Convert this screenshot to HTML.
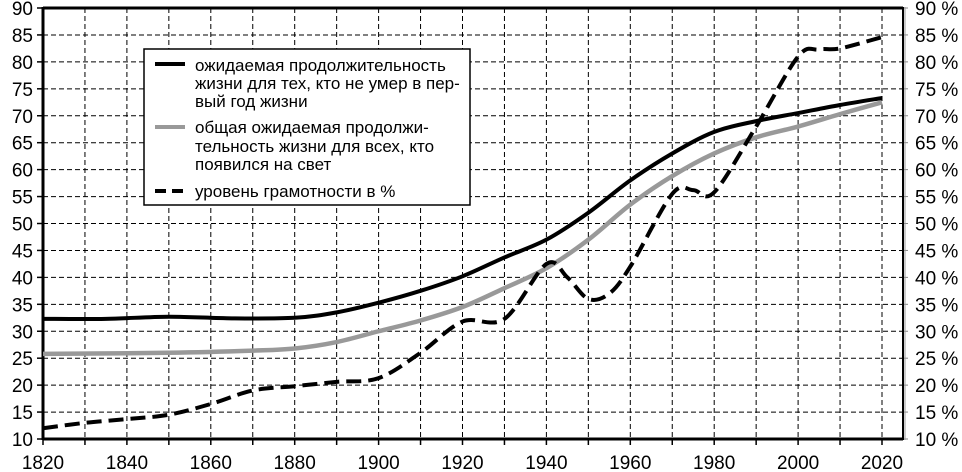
<!DOCTYPE html>
<html><head><meta charset="utf-8"><style>
body{margin:0;background:#fff}
svg{display:block;font-family:"Liberation Sans",sans-serif}
</style></head><body>
<svg id="s" width="962" height="472" xmlns="http://www.w3.org/2000/svg"></svg>
<script>
const s=document.getElementById('s');
const X=y=>43+(y-1820)*4.195, Y=v=>439-(v-10)*5.3875;
let h='';
for(let yr=1830;yr<=2020;yr+=10){h+=`<line x1="${X(yr)}" y1="8" x2="${X(yr)}" y2="439" stroke="#000" stroke-width="1" stroke-dasharray="5,3"/>`;}
for(let v=15;v<=85;v+=5){h+=`<line x1="43" y1="${Y(v)}" x2="903" y2="${Y(v)}" stroke="#000" stroke-width="1" stroke-dasharray="5,3"/>`;}
for(let v=10;v<=90;v+=5){const y=Y(v);
h+=`<line x1="37" y1="${y}" x2="43" y2="${y}" stroke="#000" stroke-width="1.5"/>`;
h+=`<line x1="903" y1="${y}" x2="908" y2="${y}" stroke="#888" stroke-width="1"/>`;
h+=`<text x="33" y="${y+7}" font-size="19" text-anchor="end">${v}</text>`;
h+=`<text x="915" y="${y+7}" font-size="19">${v} %</text>`;}
for(let yr=1820;yr<=2020;yr+=10){h+=`<line x1="${X(yr)}" y1="439" x2="${X(yr)}" y2="445" stroke="#000" stroke-width="1.5"/>`;}
for(let yr=1820;yr<=2020;yr+=20){h+=`<text x="${X(yr)}" y="469" font-size="19" text-anchor="middle">${yr}</text>`;}
h+=`<line x1="43" y1="8" x2="903" y2="8" stroke="#000" stroke-width="3"/>`;
h+=`<line x1="43" y1="439" x2="903" y2="439" stroke="#000" stroke-width="3"/>`;
h+=`<line x1="43" y1="7" x2="43" y2="440" stroke="#000" stroke-width="3"/>`;
h+=`<line x1="903" y1="7" x2="903" y2="440" stroke="#000" stroke-width="2"/>`;
h+=`<line x1="905" y1="7" x2="905" y2="440" stroke="#999" stroke-width="1"/>`;
function path(d){
 const p=d.map(a=>[X(a[0]),Y(a[1])]);let o=`M${p[0][0]},${p[0][1]}`;
 for(let i=0;i<p.length-1;i++){const p0=p[i-1]||p[i],p1=p[i],p2=p[i+1],p3=p[i+2]||p2;
 o+=` C${p1[0]+(p2[0]-p0[0])/6},${p1[1]+(p2[1]-p0[1])/6} ${p2[0]-(p3[0]-p1[0])/6},${p2[1]-(p3[1]-p1[1])/6} ${p2[0]},${p2[1]}`;}return o;}
const blk=[[1820,32.3],[1835,32.3],[1850,32.7],[1865,32.4],[1880,32.5],[1890,33.5],[1900,35.3],[1910,37.5],[1920,40.2],[1930,43.7],[1940,47],[1950,52],[1960,58],[1970,63],[1980,67],[1990,69],[2000,70.5],[2010,72],[2020,73.3]];
const gry=[[1820,25.8],[1850,26],[1870,26.4],[1880,26.8],[1890,28],[1900,30],[1910,32],[1920,34.5],[1930,38],[1940,41.7],[1950,47],[1960,53.5],[1970,58.8],[1980,63],[1990,66],[2000,68],[2010,70.3],[2020,72.5]];
const dsh=[[1820,12],[1830,13],[1840,13.7],[1850,14.5],[1860,16.5],[1870,19],[1880,19.8],[1890,20.6],[1900,21.3],[1910,26],[1920,31.8],[1930,32.3],[1940,42.5],[1945,40],[1950,36],[1955,37],[1960,42],[1970,55.5],[1975,56.2],[1980,55.8],[1990,68],[2000,81],[2005,82.3],[2010,82.5],[2020,84.6]];
h+=`<path d="${path(gry)}" fill="none" stroke="#999" stroke-width="4.5"/>`;
h+=`<path d="${path(blk)}" fill="none" stroke="#000" stroke-width="4"/>`;
h+=`<path d="${path(dsh)}" fill="none" stroke="#000" stroke-width="4" stroke-dasharray="15,7"/>`;
h+=`<rect x="144" y="49" width="326" height="156" fill="#fff" stroke="#000" stroke-width="1.5"/>`;
h+=`<line x1="155" y1="64" x2="185" y2="64" stroke="#000" stroke-width="4"/>`;
h+=`<line x1="155" y1="127" x2="185" y2="127" stroke="#999" stroke-width="4"/>`;
h+=`<line x1="155" y1="191" x2="185" y2="191" stroke="#000" stroke-width="4" stroke-dasharray="11,6"/>`;
const L=[["ожидаемая продолжительность",71],["жизни для тех, кто не умер в пер-",89],["вый год жизни",107],["общая ожидаемая продолжи-",133],["тельность жизни для всех, кто",152],["появился на свет",170],["уровень грамотности в %",197]];
for(const [t,y] of L)h+=`<text x="195" y="${y}" font-size="17">${t}</text>`;
s.innerHTML=h;
</script>
</body></html>
